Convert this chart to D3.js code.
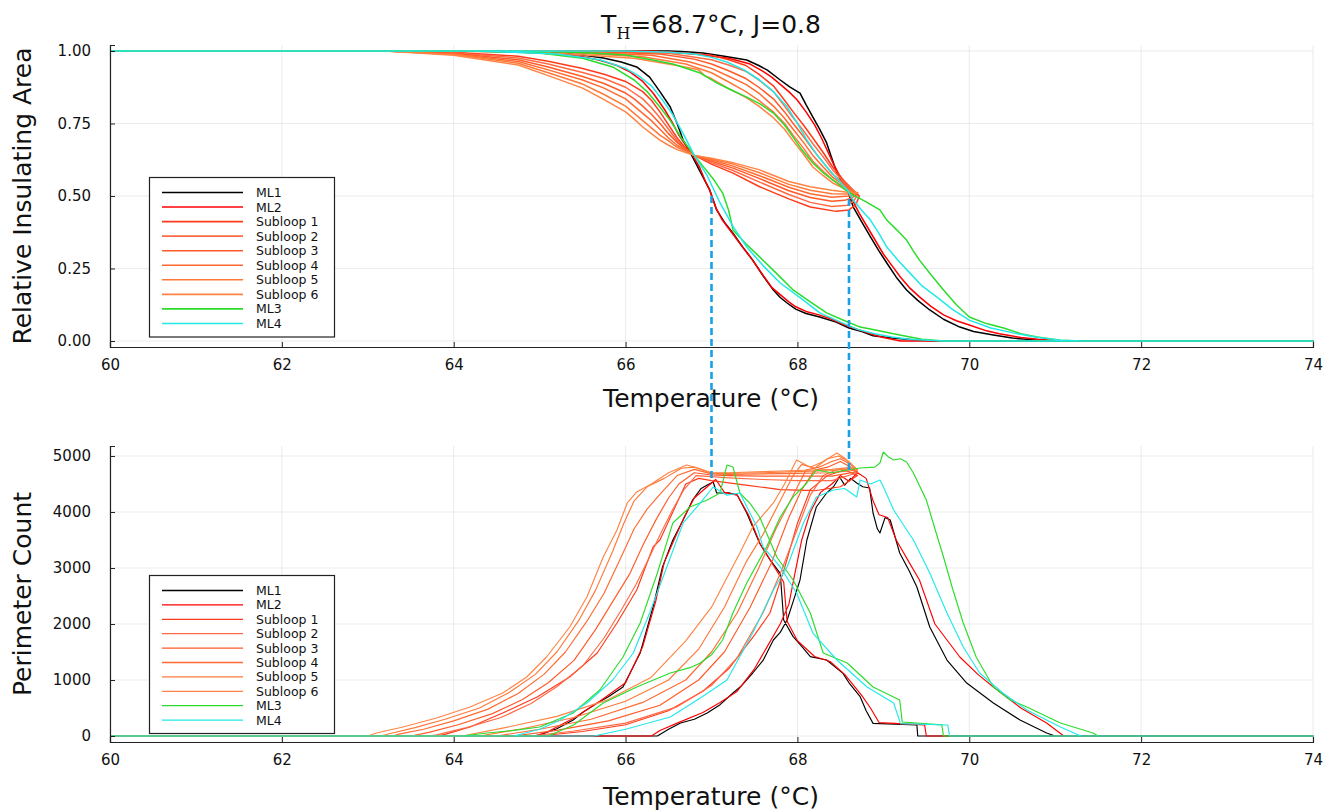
<!DOCTYPE html>
<html><head><meta charset="utf-8">
<script src="https://cdn.jsdelivr.net/npm/d3@7"></script>
<style>body{margin:0;background:#fff;} svg{display:block;font-family:"DejaVu Sans",sans-serif;}</style>
</head><body><svg id="c" width="1336" height="811"></svg>
<script>
// ---------------- DATA ----------------
const seriesNames = ["ML1","ML2","Subloop 1","Subloop 2","Subloop 3","Subloop 4","Subloop 5","Subloop 6","ML3","ML4"];
const seriesColors = ["#000000","#ff0000","#ff3a1a","#ff6a45","#ff5a28","#ff6a30","#ff7838","#ff8444","#2bdc2b","#22e8e8"];
const xTicks = [60,62,64,66,68,70,72,74];
const areaTicks = [0,0.25,0.5,0.75,1.0];
const areaTickLabels = ["0.00","0.25","0.50","0.75","1.00"];
const perimTicks = [0,1000,2000,3000,4000,5000];
const perimTickLabels = ["0","1000","2000","3000","4000","5000"];
const dashTemps = [67.0, 68.6];
const dashTopArea = [0.5, 0.49];
const dashBottomPerim = [4571, 4700];

// Relative insulating area: [temperature, area] along each loop path
const ml1Area = [[60,1],[66.5,1],[66.7,0.997],[66.9,0.993],[67.15,0.982],[67.41,0.969],[67.55,0.95],[67.65,0.934],[67.8,0.9],[67.91,0.876],[68.03,0.855],[68.1,0.815],[68.18,0.772],[68.26,0.73],[68.34,0.683],[68.4,0.63],[68.46,0.579],[68.52,0.55],[68.58,0.521],[68.65,0.462],[68.75,0.41],[68.85,0.359],[68.95,0.31],[69.04,0.269],[69.15,0.22],[69.27,0.176],[69.4,0.14],[69.54,0.107],[69.7,0.075],[69.89,0.048],[70.05,0.033],[70.28,0.021],[70.5,0.01],[70.79,0.003],[71.0,0],[74,0],
 [69.6,0],[69.35,0.004],[69.1,0.01],[68.88,0.018],[68.75,0.033],[68.6,0.045],[68.45,0.065],[68.26,0.083],[68.1,0.095],[67.98,0.11],[67.88,0.131],[67.8,0.15],[67.72,0.176],[67.6,0.225],[67.48,0.279],[67.36,0.325],[67.25,0.372],[67.15,0.41],[67.06,0.452],[66.98,0.52],[66.9,0.566],[66.78,0.634],[66.67,0.693],[66.6,0.75],[66.52,0.807],[66.4,0.86],[66.28,0.91],[66.13,0.945],[65.95,0.962],[65.74,0.976],[65.5,0.986],[65.2,0.994],[64.6,1],[60,1]];
const ml2Area = [[60,1],[66.3,1],[66.8,0.99],[67.2,0.975],[67.45,0.955],[67.6,0.93],[67.7,0.91],[67.9,0.86],[68.0,0.83],[68.1,0.79],[68.2,0.745],[68.28,0.7],[68.35,0.655],[68.42,0.61],[68.5,0.565],[68.56,0.535],[68.65,0.48],[68.72,0.44],[68.8,0.4],[68.9,0.35],[69.0,0.3],[69.1,0.26],[69.2,0.22],[69.3,0.185],[69.42,0.152],[69.55,0.12],[69.7,0.09],[69.85,0.07],[70.0,0.055],[70.2,0.035],[70.35,0.025],[70.6,0.012],[70.8,0.006],[71.1,0],[74,0],
 [69.2,0],[69.0,0.012],[68.85,0.025],[68.7,0.04],[68.55,0.055],[68.4,0.075],[68.25,0.09],[68.1,0.102],[67.98,0.118],[67.9,0.135],[67.8,0.16],[67.7,0.185],[67.58,0.235],[67.45,0.29],[67.32,0.34],[67.22,0.38],[67.12,0.42],[67.05,0.46],[66.98,0.52],[66.93,0.55],[66.86,0.6],[66.78,0.64],[66.7,0.675],[66.62,0.71],[66.55,0.75],[66.45,0.8],[66.32,0.855],[66.2,0.895],[66.05,0.928],[65.9,0.95],[65.7,0.968],[65.5,0.98],[65.2,0.99],[64.8,0.996],[64.0,1],[60,1]];
const sub1Area = [[60,1],[65.8,1],[66.6,0.995],[67.0,0.985],[67.2,0.97],[67.4,0.95],[67.55,0.92],[67.72,0.88],[67.85,0.83],[67.95,0.79],[68.07,0.745],[68.18,0.7],[68.3,0.65],[68.41,0.6],[68.55,0.55],[68.65,0.52],[68.72,0.5],
 [68.68,0.47],[68.6,0.452],[68.45,0.447],[68.15,0.462],[67.9,0.49],[67.56,0.532],[67.25,0.579],[67.0,0.61],[66.8,0.64],
 [66.7,0.665],[66.6,0.7],[66.5,0.745],[66.4,0.79],[66.3,0.83],[66.2,0.86],[66.0,0.895],[65.75,0.92],[65.5,0.94],[65.1,0.965],[64.75,0.982],[64.0,0.996],[63.2,1],[60,1]];
const sub2Area = [[60,1],[65.6,1],[66.5,0.992],[67.0,0.97],[67.2,0.952],[67.4,0.93],[67.55,0.9],[67.72,0.86],[67.85,0.81],[67.95,0.77],[68.07,0.725],[68.18,0.68],[68.3,0.635],[68.41,0.59],[68.55,0.545],[68.65,0.52],[68.7,0.505],
 [68.66,0.485],[68.58,0.468],[68.4,0.464],[68.15,0.478],[67.9,0.505],[67.56,0.548],[67.25,0.588],[67.0,0.615],[66.8,0.64],
 [66.7,0.662],[66.6,0.69],[66.5,0.73],[66.4,0.77],[66.3,0.805],[66.2,0.835],[66.0,0.875],[65.75,0.905],[65.5,0.926],[65.1,0.955],[64.75,0.976],[64.0,0.994],[63.2,1],[60,1]];
const sub3Area = [[60,1],[65.4,1],[66.4,0.99],[66.8,0.972],[67.0,0.955],[67.2,0.932],[67.4,0.905],[67.55,0.875],[67.72,0.835],[67.85,0.79],[67.95,0.75],[68.07,0.705],[68.18,0.66],[68.3,0.615],[68.41,0.575],[68.55,0.54],[68.65,0.515],[68.7,0.508],
 [68.64,0.495],[68.55,0.485],[68.4,0.482],[68.15,0.495],[67.9,0.518],[67.56,0.56],[67.25,0.596],[67.0,0.62],[66.8,0.64],
 [66.7,0.66],[66.6,0.685],[66.5,0.715],[66.4,0.75],[66.3,0.782],[66.2,0.81],[66.1,0.835],[66.0,0.855],[65.75,0.888],[65.5,0.912],[65.1,0.945],[64.75,0.97],[64.0,0.992],[63.2,1],[60,1]];
const sub4Area = [[60,1],[65.2,1],[66.3,0.985],[66.75,0.962],[67.0,0.94],[67.2,0.913],[67.4,0.885],[67.55,0.855],[67.72,0.81],[67.85,0.768],[67.95,0.73],[68.07,0.685],[68.18,0.64],[68.3,0.6],[68.41,0.565],[68.55,0.535],[68.65,0.515],[68.7,0.51],
 [68.6,0.5],[68.4,0.496],[68.15,0.508],[67.9,0.53],[67.56,0.57],[67.25,0.603],[67.0,0.625],[66.8,0.64],
 [66.7,0.657],[66.6,0.675],[66.5,0.7],[66.4,0.73],[66.3,0.76],[66.2,0.785],[66.1,0.81],[66.0,0.835],[65.75,0.872],[65.5,0.9],[65.1,0.935],[64.75,0.964],[64.0,0.99],[63.2,1],[60,1]];
const sub5Area = [[60,1],[65.0,1],[66.2,0.98],[66.7,0.955],[67.0,0.925],[67.2,0.893],[67.4,0.86],[67.55,0.83],[67.72,0.79],[67.85,0.75],[67.95,0.71],[68.07,0.665],[68.18,0.62],[68.3,0.585],[68.41,0.555],[68.55,0.53],[68.65,0.512],[68.7,0.51],
 [68.6,0.507],[68.4,0.508],[68.15,0.52],[67.9,0.54],[67.56,0.58],[67.25,0.61],[67.0,0.628],[66.8,0.64],
 [66.7,0.654],[66.6,0.668],[66.5,0.69],[66.4,0.71],[66.3,0.735],[66.2,0.76],[66.1,0.785],[66.0,0.81],[65.75,0.85],[65.5,0.886],[65.1,0.925],[64.75,0.958],[64.0,0.988],[63.2,1],[60,1]];
const sub6Area = [[60,1],[64.8,1],[66.1,0.975],[66.6,0.95],[66.85,0.935],[66.92,0.915],[67.0,0.905],[67.2,0.87],[67.4,0.84],[67.55,0.81],[67.72,0.77],[67.85,0.73],[67.95,0.69],[68.07,0.645],[68.18,0.6],[68.3,0.57],[68.41,0.545],[68.55,0.525],[68.65,0.51],[68.7,0.512],
 [68.6,0.512],[68.4,0.52],[68.15,0.532],[67.9,0.55],[67.56,0.59],[67.25,0.615],[67.0,0.63],[66.8,0.64],
 [66.7,0.65],[66.6,0.66],[66.5,0.675],[66.4,0.693],[66.3,0.715],[66.2,0.738],[66.1,0.765],[66.0,0.79],[65.75,0.832],[65.5,0.872],[65.1,0.915],[64.75,0.952],[64.0,0.985],[63.2,1],[60,1]];
const ml3Area = [[60,1],[64.5,1],[65.2,0.997],[65.6,0.993],[66.0,0.986],[66.3,0.97],[66.55,0.955],[66.87,0.924],[67.06,0.89],[67.2,0.87],[67.41,0.841],[67.58,0.815],[67.72,0.786],[67.85,0.745],[67.95,0.703],[68.05,0.66],[68.18,0.614],[68.3,0.58],[68.46,0.545],[68.56,0.52],[68.65,0.503],[68.8,0.48],[68.96,0.452],[69.04,0.417],[69.15,0.385],[69.27,0.348],[69.35,0.31],[69.42,0.279],[69.55,0.23],[69.7,0.176],[69.85,0.125],[70.0,0.083],[70.2,0.06],[70.4,0.045],[70.6,0.025],[70.79,0.014],[71.06,0.003],[71.3,0],[74,0],
 [69.7,0],[69.45,0.006],[69.19,0.021],[68.95,0.035],[68.73,0.048],[68.55,0.07],[68.34,0.097],[68.15,0.135],[67.95,0.176],[67.75,0.235],[67.56,0.29],[67.4,0.335],[67.25,0.383],[67.2,0.45],[67.13,0.51],[67.03,0.555],[66.95,0.585],[66.8,0.64],[66.65,0.7],[66.52,0.76],[66.4,0.807],[66.25,0.86],[66.1,0.9],[65.85,0.945],[65.5,0.975],[65.0,0.993],[64.2,1],[60,1]];
const ml4Area = [[60,1],[66.0,1],[66.5,0.996],[66.8,0.99],[67.0,0.978],[67.18,0.962],[67.38,0.935],[67.56,0.9],[67.72,0.86],[67.88,0.807],[68.0,0.75],[68.11,0.693],[68.22,0.645],[68.34,0.6],[68.46,0.56],[68.58,0.521],[68.65,0.486],[68.75,0.45],[68.85,0.417],[68.95,0.37],[69.04,0.324],[69.18,0.275],[69.31,0.234],[69.45,0.19],[69.62,0.152],[69.8,0.11],[70.0,0.072],[70.25,0.045],[70.51,0.028],[70.8,0.012],[71.06,0.003],[71.3,0],[74,0],
 [69.7,0],[69.3,0.006],[69.1,0.014],[68.9,0.025],[68.7,0.04],[68.5,0.065],[68.26,0.097],[68.05,0.145],[67.8,0.2],[67.6,0.26],[67.41,0.324],[67.25,0.395],[67.1,0.476],[66.95,0.57],[66.8,0.64],[66.68,0.71],[66.55,0.78],[66.42,0.835],[66.3,0.88],[66.15,0.915],[66.0,0.94],[65.7,0.97],[65.2,0.99],[64.3,1],[60,1]];

// Perimeter count: [temperature, count] along each loop path
const ml1Perim = [[60,0],[66.37,0],[66.5,120],[66.64,232],[66.8,300],[66.95,411],[67.1,560],[67.25,768],[67.35,900],[67.48,1125],[67.6,1350],[67.72,1714],[67.8,1850],[67.88,2071],[67.95,2400],[68.03,2786],[68.11,3500],[68.22,4089],[68.34,4339],[68.42,4450],[68.49,4625],[68.55,4480],[68.62,4600],[68.69,4518],[68.76,4450],[68.84,4429],[68.88,3982],[68.93,3700],[68.96,3625],[69.02,3900],[69.08,3857],[69.19,3268],[69.3,2950],[69.39,2661],[69.54,1946],[69.74,1357],[69.97,946],[70.28,589],[70.59,286],[70.9,54],[71.0,0],[74,0],
 [69.4,0],[69.39,196],[68.88,226],[68.8,450],[68.73,702],[68.6,950],[68.53,1119],[68.34,1357],[68.15,1417],[68.05,1600],[67.95,1774],[67.84,2071],[67.8,2905],[67.68,3150],[67.56,3441],[67.41,3982],[67.3,4304],[67.2,4340],[67.06,4339],[67.02,4536],[66.95,4480],[66.88,4420],[66.78,4214],[66.67,3857],[66.55,3500],[66.43,3018],[66.32,2304],[66.17,1482],[65.97,875],[65.8,700],[65.67,589],[65.5,420],[65.39,286],[65.2,130],[65.0,18],[64.89,0],[60,0]];
const ml2Perim = [[60,0],[66.3,0],[66.4,100],[66.6,230],[66.9,420],[67.1,600],[67.3,800],[67.5,1200],[67.65,1600],[67.8,2000],[67.9,2350],[67.97,2900],[68.05,3500],[68.15,4000],[68.27,4350],[68.4,4500],[68.5,4650],[68.6,4550],[68.7,4700],[68.8,4600],[68.88,4200],[68.95,3950],[69.05,3900],[69.15,3500],[69.3,3100],[69.42,2786],[69.6,2000],[69.89,1411],[70.1,1100],[70.28,875],[70.6,500],[70.9,232],[71.1,0],[74,0],
 [69.5,0],[69.48,200],[68.95,240],[68.85,500],[68.75,720],[68.55,1100],[68.38,1330],[68.2,1420],[68.0,1700],[67.88,2050],[67.84,2750],[67.7,3100],[67.57,3420],[67.43,3950],[67.3,4300],[67.15,4350],[67.05,4580],[66.95,4450],[66.8,4250],[66.68,3900],[66.55,3450],[66.45,3100],[66.35,2400],[66.2,1600],[66.0,950],[65.7,620],[65.4,320],[65.1,80],[64.95,0],[60,0]];
const sub1Perim = [[60,0],[65.0,0],[65.5,80],[66.0,200],[66.5,450],[66.9,800],[67.2,1200],[67.5,1800],[67.68,2196],[67.85,3000],[68.0,3800],[68.15,4400],[68.35,4650],[68.55,4750],[68.7,4650],
 [68.5,4450],[68.2,4380],[67.8,4400],[67.4,4480],[67.0,4560],
 [66.85,4600],[66.7,4500],[66.55,4000],[66.4,3500],[66.32,3375],[66.13,2607],[65.9,2018],[65.67,1482],[65.35,1054],[64.97,696],[64.57,411],[64.19,161],[63.9,30],[63.8,0],[60,0]];
const sub2Perim = [[60,0],[64.9,0],[65.4,90],[66.0,230],[66.6,520],[67.0,900],[67.3,1400],[67.6,2200],[67.8,2900],[68.0,3700],[68.15,4300],[68.3,4650],[68.45,4750],[68.6,4780],[68.7,4700],
 [68.4,4560],[68.0,4560],[67.6,4580],[67.2,4610],[67.0,4630],
 [66.82,4650],[66.68,4400],[66.55,4050],[66.42,3650],[66.28,3200],[66.12,2700],[65.95,2250],[65.75,1750],[65.5,1250],[65.2,880],[64.9,580],[64.55,330],[64.15,150],[63.8,20],[63.7,0],[60,0]];
const sub3Perim = [[60,0],[64.7,0],[65.2,100],[65.8,270],[66.4,550],[66.85,1000],[67.15,1500],[67.45,2300],[67.7,3100],[67.9,3900],[68.05,4400],[68.2,4750],[68.35,4800],[68.5,4900],[68.62,4800],[68.7,4720],
 [68.4,4640],[68.0,4640],[67.6,4640],[67.2,4650],[67.0,4660],
 [66.8,4700],[66.62,4500],[66.5,4250],[66.35,3850],[66.2,3400],[66.05,2900],[65.85,2400],[65.65,1900],[65.4,1350],[65.1,950],[64.8,650],[64.45,400],[64.05,200],[63.7,60],[63.5,0],[60,0]];
const sub4Perim = [[60,0],[64.5,0],[65.0,120],[65.6,300],[66.2,600],[66.7,1000],[67.0,1500],[67.3,2200],[67.55,3000],[67.75,3700],[67.95,4300],[68.1,4750],[68.25,4800],[68.4,4900],[68.5,4950],[68.62,4850],[68.7,4750],
 [68.4,4700],[68.0,4690],[67.6,4680],[67.2,4670],[67.0,4680],
 [66.8,4760],[66.6,4650],[66.42,4350],[66.25,4050],[66.1,3700],[65.95,3200],[65.75,2550],[65.55,2050],[65.3,1500],[65.05,1100],[64.75,760],[64.4,480],[64.0,270],[63.65,120],[63.35,30],[63.3,0],[60,0]];
const sub5Perim = [[60,0],[64.3,0],[64.8,130],[65.4,330],[66.0,620],[66.5,1000],[66.85,1550],[67.15,2300],[67.4,3100],[67.6,3600],[67.8,4200],[67.95,4650],[68.05,4850],[68.2,4780],[68.35,4950],[68.48,5000],[68.6,4900],[68.68,4780],
 [68.4,4740],[68.0,4720],[67.6,4700],[67.2,4690],[67.0,4690],
 [66.8,4800],[66.65,4780],[66.45,4600],[66.25,4450],[66.1,4200],[65.98,3800],[65.85,3300],[65.65,2600],[65.45,2050],[65.2,1500],[64.95,1100],[64.65,780],[64.3,500],[63.9,300],[63.55,150],[63.25,40],[63.15,0],[60,0]];
const sub6Perim = [[60,0],[64.1,0],[64.6,150],[65.2,350],[65.8,650],[66.3,1050],[66.7,1700],[67.0,2300],[67.33,3268],[67.48,3732],[67.72,4161],[67.85,4500],[67.99,4929],[68.15,4800],[68.3,4900],[68.46,5054],[68.56,4950],[68.65,4800],
 [68.4,4760],[68.0,4740],[67.6,4720],[67.2,4700],[67.0,4700],
 [66.85,4780],[66.71,4839],[66.5,4700],[66.3,4500],[66.13,4357],[66.02,4161],[65.9,3679],[65.74,3196],[65.55,2482],[65.35,1946],[65.08,1411],[64.85,1054],[64.57,768],[64.19,518],[63.8,321],[63.41,161],[63.1,54],[63.0,0],[60,0]];
const ml3Perim = [[60,0],[65.1,0],[65.4,200],[65.74,589],[66.13,875],[66.52,1125],[66.75,1220],[66.87,1304],[67.0,1450],[67.13,1714],[67.25,2200],[67.41,2732],[67.64,3375],[67.8,3911],[67.95,4268],[68.1,4500],[68.22,4750],[68.4,4700],[68.58,4750],[68.73,4786],[68.9,4800],[68.96,4875],[69.0,5071],[69.06,4980],[69.12,4929],[69.2,4950],[69.27,4893],[69.35,4696],[69.5,4214],[69.6,3700],[69.7,3196],[69.81,2607],[69.93,2018],[70.08,1411],[70.28,875],[70.47,650],[70.67,518],[71.06,232],[71.44,54],[71.5,0],[74,0],
 [69.7,0],[69.68,200],[69.22,250],[69.19,643],[68.88,875],[68.58,1304],[68.3,1482],[68.15,2196],[67.95,2786],[67.76,3196],[67.56,3911],[67.45,4150],[67.33,4339],[67.25,4804],[67.18,4839],[67.1,4339],[66.95,4214],[66.75,4089],[66.55,3804],[66.37,2911],[66.17,2018],[65.97,1411],[65.7,821],[65.39,411],[65.0,161],[64.7,100],[64.39,54],[64.1,0],[60,0]];
const ml4Perim = [[60,0],[65.63,0],[66.0,120],[66.52,339],[66.87,680],[67.18,1000],[67.48,1839],[67.72,2607],[67.88,3018],[68.07,3804],[68.22,4268],[68.42,4393],[68.55,4420],[68.69,4268],[68.73,4571],[68.85,4500],[68.96,4571],[69.0,4450],[69.12,4036],[69.35,3500],[69.54,2911],[69.74,2196],[69.93,1589],[70.12,1125],[70.39,768],[70.67,464],[71.06,161],[71.3,0],[74,0],
 [69.77,0],[69.75,196],[69.2,220],[69.12,589],[68.81,875],[68.46,1357],[68.18,1839],[67.99,2554],[67.8,3018],[67.6,3375],[67.53,3732],[67.33,4339],[67.18,4300],[67.02,4446],[66.87,4161],[66.67,3804],[66.48,3018],[66.28,2196],[66.09,1482],[65.85,1000],[65.55,589],[65.24,286],[65.0,120],[64.7,0],[60,0]];

const areaSeries = [ml1Area, ml2Area, sub1Area, sub2Area, sub3Area, sub4Area, sub5Area, sub6Area, ml3Area, ml4Area];
const perimSeries = [ml1Perim, ml2Perim, sub1Perim, sub2Perim, sub3Perim, sub4Perim, sub5Perim, sub6Perim, ml3Perim, ml4Perim];

// ---------------- DRAW ----------------
const svg = d3.select("#c");
const x = d3.scaleLinear().domain([60,74]).range([110,1313]);
const yA = d3.scaleLinear().domain([-0.0207,1.0207]).range([347,45]);
const yP = d3.scaleLinear().domain([-107,5178]).range([742,446]);

function panel(y, yTicks, yLabels, data, lw, yTitle, axisY, legendTop, legendStep, lineW) {
  const g = svg.append("g");
  const [y0, y1] = y.range();
  g.selectAll(".gx").data(xTicks).join("line")
    .attr("x1", d=>x(d)).attr("x2", d=>x(d)).attr("y1", y1).attr("y2", y0)
    .attr("stroke", "#000").attr("stroke-opacity", 0.08).attr("stroke-width", 1);
  g.selectAll(".gy").data(yTicks).join("line")
    .attr("x1", 110).attr("x2", 1313).attr("y1", d=>y(d)).attr("y2", d=>y(d))
    .attr("stroke", "#000").attr("stroke-opacity", 0.08).attr("stroke-width", 1);
  const line = d3.line().x(d=>x(d[0])).y(d=>y(d[1]));
  data.forEach((s,i)=>{
    g.append("path").attr("d", line(s)).attr("fill","none")
      .attr("stroke", seriesColors[i]).attr("stroke-width", lw)
      .attr("stroke-linejoin","round");
  });
  const ax = g.append("g").attr("transform",`translate(0,${y0})`)
    .call(d3.axisBottom(x).tickValues(xTicks).tickFormat(d3.format("d")).tickSize(-5).tickPadding(12));
  const ay = g.append("g").attr("transform",`translate(110,0)`)
    .call(d3.axisLeft(y).tickValues(yTicks).tickFormat((d,i)=>yLabels[i]).tickSize(-5).tickPadding(19));
  [ax, ay].forEach(a=>{
    a.select(".domain").attr("stroke","#222").attr("stroke-width",1.2);
    a.selectAll(".tick line").attr("stroke","#222").attr("stroke-width",1);
    a.selectAll("text").attr("font-size",15).attr("fill","#111").attr("font-family","DejaVu Sans");
  });
  g.append("text").attr("x",711).attr("y",axisY).attr("text-anchor","middle")
    .attr("font-size",25).attr("fill","#111").text("Temperature (°C)");
  g.append("text").attr("transform",`translate(31,${(y0+y1)/2}) rotate(-90)`)
    .attr("text-anchor","middle").attr("font-size",25).attr("fill","#111").text(yTitle);
  const lg = g.append("g");
  lg.append("rect").attr("x",149.5).attr("y",legendTop).attr("width",185).attr("height",legendStep*10+14)
    .attr("fill","#fff").attr("stroke","#222").attr("stroke-width",1.2);
  seriesNames.forEach((n,i)=>{
    const yy = legendTop + 15 + i*legendStep;
    lg.append("line").attr("x1",162).attr("x2",243).attr("y1",yy).attr("y2",yy)
      .attr("stroke",seriesColors[i]).attr("stroke-width",lineW);
    lg.append("text").attr("x",256).attr("y",yy).attr("dy","0.36em")
      .attr("font-size",12.5).attr("fill","#111").text(n);
  });
}

panel(yA, areaTicks, areaTickLabels, areaSeries, 1.5, "Relative Insulating Area", 407, 177.5, 14.55, 1.6);
panel(yP, perimTicks, perimTickLabels, perimSeries, 1.15, "Perimeter Count", 805, 575.5, 14.4, 1.3);

dashTemps.forEach((t,i)=>{
  svg.append("line").attr("x1",x(t)).attr("x2",x(t))
    .attr("y1",yA(dashTopArea[i])).attr("y2",yP(dashBottomPerim[i]))
    .attr("stroke","#1aa0e6").attr("stroke-width",2.6).attr("stroke-dasharray","7,4");
});

const tt = svg.append("text").attr("x",711).attr("y",33).attr("text-anchor","middle")
  .attr("font-size",25).attr("fill","#111");
tt.append("tspan").text("T");
tt.append("tspan").attr("font-family","DejaVu Serif").attr("font-size",16).attr("dy",6).text("H");
tt.append("tspan").attr("dy",-6).text("=68.7°C, J=0.8");
</script></body></html>
